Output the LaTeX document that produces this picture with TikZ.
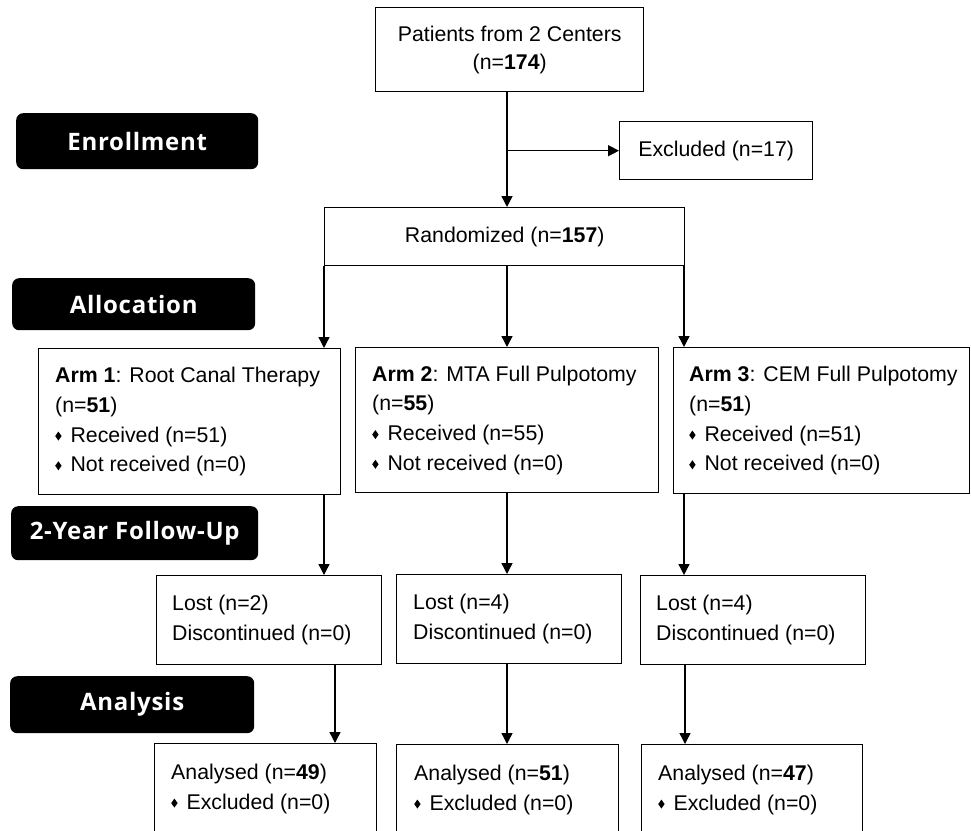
\documentclass[tikz,border=0pt]{standalone}
\usepackage{fontspec}
\setmainfont{Liberation Sans}
\newfontfamily\labfont[LetterSpace=3]{Open Sans}
\usetikzlibrary{arrows.meta}
\newcommand\dmd{\tikz[x=1pt,y=1pt,baseline=0pt]\fill (0,6)--(3.2,1.5)--(6.4,6)--(3.2,10.5)--cycle;\hspace{9pt}}
\begin{document}
\begin{tikzpicture}[x=1pt,y=-1pt,
  font=\fontsize{21.3}{29.7}\selectfont,
  box/.style={draw=black, line width=1.4pt, anchor=north west, inner sep=0pt},
  txt/.style={anchor=west, inner sep=0pt, align=left},
  ctxt/.style={box, align=center, font=\fontsize{21.3}{28}\selectfont},
  lab/.style={fill=black, rounded corners=7pt, anchor=north west, inner sep=0pt,
    text=white, font=\labfont\bfseries\fontsize{24}{28}\selectfont},
  arr/.style={line width=1.4pt, -{Triangle[length=11pt,width=11pt]}}]
\useasboundingbox (0,0) rectangle (971,830);
\clip (0,0) rectangle (971,830);
% stage labels
\node[lab, minimum width=242, minimum height=56] (lab1) at (16,113) {Enrollment};
\node[lab, minimum width=243, minimum height=52] (lab2) at (12,278) {Allocation};
\node[lab, minimum width=247, minimum height=54] (lab3) at (11,506) {2-Year Follow-Up};
\node[lab, minimum width=244, minimum height=57] (lab4) at (10,676) {Analysis};
% column coordinates
\coordinate (col1) at (324,0);
\coordinate (col2) at (507,0);
\coordinate (col3) at (684,0);
\coordinate (col1b) at (335,0);
\coordinate (col3b) at (685,0);
% top
\node[ctxt, minimum width=268, minimum height=84] (top) at (375,7) {Patients from 2 Centers\\(n=\textbf{174})};
\node[ctxt, minimum width=193, minimum height=58] (excl) at (619,121) {Excluded (n=17)};
\node[ctxt, minimum width=360, minimum height=58] (rand) at (324,207) {Randomized (n=\textbf{157})};
% arms
\node[box, minimum width=302, minimum height=146] (arm1) at (38,348) {};
\node[txt] (arm1t) at ([xshift=17pt]arm1.west) {\textbf{Arm 1}: Root Canal Therapy\\(n=\textbf{51})\\\dmd Received (n=51)\\\dmd Not received (n=0)};
\node[box, minimum width=303, minimum height=145] (arm2) at (355,347) {};
\node[txt] (arm2t) at ([xshift=17pt]arm2.west) {\textbf{Arm 2}: MTA Full Pulpotomy\\(n=\textbf{55})\\\dmd Received (n=55)\\\dmd Not received (n=0)};
\node[box, minimum width=296, minimum height=146] (arm3) at (673,347) {};
\node[txt] (arm3t) at ([xshift=16pt]arm3.west) {\textbf{Arm 3}: CEM Full Pulpotomy\\(n=\textbf{51})\\\dmd Received (n=51)\\\dmd Not received (n=0)};
% follow-up
\node[box, minimum width=225, minimum height=89] (fu1) at (156,575) {};
\node[txt] (fu1t) at ([xshift=16pt]fu1.west) {Lost (n=2)\\Discontinued (n=0)};
\node[box, minimum width=225, minimum height=89] (fu2) at (396,574) {};
\node[txt] (fu2t) at ([xshift=17pt]fu2.west) {Lost (n=4)\\Discontinued (n=0)};
\node[box, minimum width=225, minimum height=89] (fu3) at (640,575) {};
\node[txt] (fu3t) at ([xshift=16pt]fu3.west) {Lost (n=4)\\Discontinued (n=0)};
% analysis
\node[box, minimum width=222, minimum height=90] (an1) at (154,743) {};
\node[txt] (an1t) at ([xshift=17pt]an1.west) {Analysed (n=\textbf{49})\\\dmd Excluded (n=0)};
\node[box, minimum width=222, minimum height=90] (an2) at (396,744) {};
\node[txt] (an2t) at ([xshift=18pt]an2.west) {Analysed (n=\textbf{51})\\\dmd Excluded (n=0)};
\node[box, minimum width=221, minimum height=90] (an3) at (641,744) {};
\node[txt] (an3t) at ([xshift=17pt]an3.west) {Analysed (n=\textbf{47})\\\dmd Excluded (n=0)};
% connectors
\draw[arr] (top.south -| col2) -- (rand.north -| col2);
\draw[arr] (col2 |- excl.west) -- (excl.west);
\draw[arr] (rand.south -| col1) -- (arm1.north -| col1);
\draw[arr] (rand.south -| col2) -- (arm2.north -| col2);
\draw[arr] (rand.south -| col3) -- (arm3.north -| col3);
\draw[arr] (arm1.south -| col1) -- (fu1.north -| col1);
\draw[arr] (arm2.south -| col2) -- (fu2.north -| col2);
\draw[arr] (arm3.south -| col3) -- (fu3.north -| col3);
\draw[arr] (fu1.south -| col1b) -- (an1.north -| col1b);
\draw[arr] (fu2.south -| col2) -- (an2.north -| col2);
\draw[arr] (fu3.south -| col3b) -- (an3.north -| col3b);
\end{tikzpicture}
\end{document}
